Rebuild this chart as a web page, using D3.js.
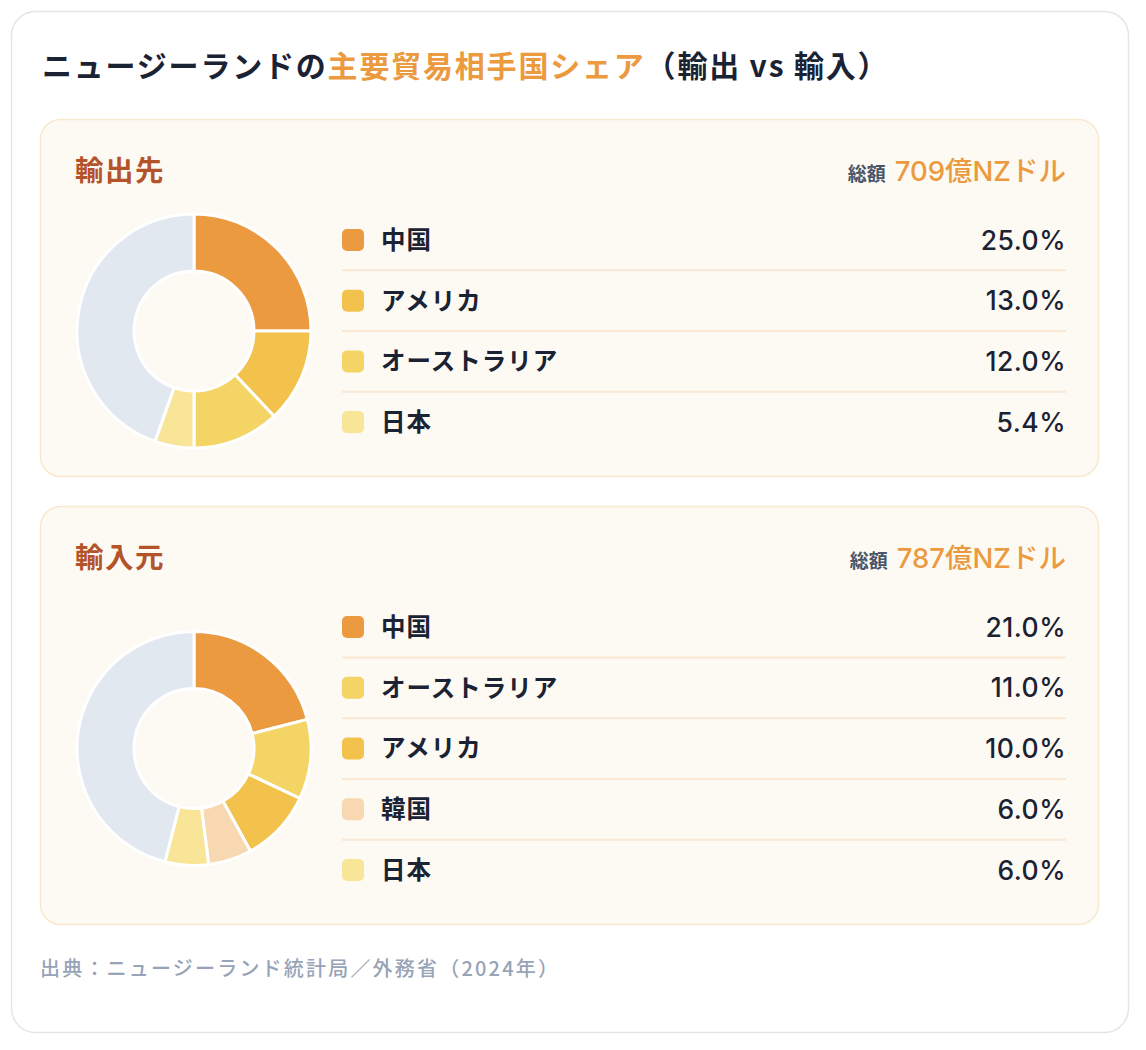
<!DOCTYPE html>
<html lang="ja">
<head>
<meta charset="utf-8">
<script src="https://cdn.jsdelivr.net/npm/d3@7"></script>
<style>
  html, body { margin: 0; padding: 0; background: #ffffff; }
  svg { display: block; }
</style>
</head>
<body>
<svg id="chart" width="1146" height="1050"></svg>
<script>
// ---------- data ----------
const titlePre = "ニュージーランドの";
const titleMid = "主要貿易相手国シェア";
const titlePost = "（輸出 vs 輸入）";
const sourceText = "出典：ニュージーランド統計局／外務省（2024年）";

const exportTitle = "輸出先";
const exportTotal = "709億NZドル";
const exportCountries = ["中国", "アメリカ", "オーストラリア", "日本"];
const exportShares = [25.0, 13.0, 12.0, 5.4];
const exportOther = 44.6;

const importTitle = "輸入元";
const importTotal = "787億NZドル";
const importCountries = ["中国", "オーストラリア", "アメリカ", "韓国", "日本"];
const importShares = [21.0, 11.0, 10.0, 6.0, 6.0];
const importOther = 46.0;

const countryColors = {
  "中国": "#eb9a40",
  "アメリカ": "#f2c24c",
  "オーストラリア": "#f5d466",
  "日本": "#f9e597",
  "韓国": "#f8d8b0",
  "その他": "#e2e8f0"
};

// ---------- drawing ----------
const svg = d3.select("#chart");
const JP = "'Noto Sans CJK JP', 'Noto Sans', sans-serif";
const NUM = "Inter, 'Noto Sans CJK JP', sans-serif";

svg.append("rect")
  .attr("x", 11.5).attr("y", 11.5)
  .attr("width", 1117).attr("height", 1021)
  .attr("rx", 24)
  .attr("fill", "#ffffff")
  .attr("stroke", "#e3e5ea")
  .attr("stroke-width", 1.5);

const title = svg.append("text")
  .attr("x", 42).attr("y", 77)
  .attr("font-family", JP)
  .attr("font-size", 30)
  .attr("font-weight", 700)
  .attr("letter-spacing", 1.8)
  .attr("fill", "#1a2233");
title.append("tspan").text(titlePre);
title.append("tspan").attr("fill", "#eb9a40").text(titleMid);
title.append("tspan").text(titlePost);

function panel(cfg) {
  const g = svg.append("g");
  g.append("rect")
    .attr("x", 40.5).attr("y", cfg.top + 0.5)
    .attr("width", 1058).attr("height", cfg.height)
    .attr("rx", 20)
    .attr("fill", "#fdfaf3")
    .attr("stroke", "#f9e8d0")
    .attr("stroke-width", 1.5);

  g.append("text")
    .attr("x", 75).attr("y", cfg.top + 62)
    .attr("font-family", JP)
    .attr("font-size", 28.5)
    .attr("font-weight", 700)
    .attr("letter-spacing", 1.5)
    .attr("fill", "#b4532a")
    .text(cfg.title);

  const tot = g.append("text")
    .attr("x", 1066).attr("y", cfg.top + 62)
    .attr("text-anchor", "end")
    .attr("font-family", NUM);
  tot.append("tspan")
    .attr("font-family", JP)
    .attr("font-size", 19)
    .attr("font-weight", 700)
    .attr("fill", "#4a5568")
    .text("総額");
  tot.append("tspan")
    .attr("dx", 9)
    .attr("font-size", 27.5)
    .attr("font-weight", 500)
    .attr("fill", "#eb9a40")
    .text(cfg.total);

  // donut
  const data = cfg.countries.map((c, i) => ({ name: c, value: cfg.shares[i] }))
    .concat([{ name: "その他", value: cfg.other }]);
  const pie = d3.pie().sort(null).value(d => d.value);
  const arc = d3.arc().innerRadius(60).outerRadius(117);
  const dg = g.append("g").attr("transform", `translate(194,${cfg.cy})`);
  dg.selectAll("path")
    .data(pie(data))
    .join("path")
    .attr("d", arc)
    .attr("fill", d => countryColors[d.data.name])
    .attr("stroke", "#ffffff")
    .attr("stroke-width", 3)
    .attr("stroke-linejoin", "round");

  // legend rows
  const y = d3.scalePoint()
    .domain(cfg.countries)
    .range([cfg.firstRow, cfg.firstRow + cfg.rowStep * (cfg.countries.length - 1)]);

  const rows = g.selectAll("g.row")
    .data(cfg.countries.map((c, i) => ({ name: c, value: cfg.shares[i] })))
    .join("g")
    .attr("class", "row")
    .attr("transform", d => `translate(0,${y(d.name)})`);

  rows.filter((d, i) => i < cfg.countries.length - 1)
    .append("line")
    .attr("x1", 342).attr("x2", 1066)
    .attr("y1", cfg.rowStep / 2).attr("y2", cfg.rowStep / 2)
    .attr("stroke", "#f7e7d4")
    .attr("stroke-width", 2);

  rows.append("rect")
    .attr("x", 342).attr("y", -11)
    .attr("width", 22).attr("height", 22)
    .attr("rx", 5)
    .attr("fill", d => countryColors[d.name]);

  rows.append("text")
    .attr("x", 381).attr("y", 0)
    .attr("dy", "0.36em")
    .attr("font-family", JP)
    .attr("font-size", 24.5)
    .attr("font-weight", 700)
    .attr("letter-spacing", 1)
    .attr("fill", "#1a2233")
    .text(d => d.name);

  rows.append("text")
    .attr("x", 1066).attr("y", 0)
    .attr("dy", "0.36em")
    .attr("text-anchor", "end")
    .attr("font-family", NUM)
    .attr("font-size", 26.5)
    .attr("font-weight", 500)
    .attr("letter-spacing", 0.5)
    .attr("fill", "#1a2233")
    .text(d => d3.format(".1f")(d.value) + "%");
}

panel({
  top: 119, height: 357, cy: 331,
  title: exportTitle, total: exportTotal,
  countries: exportCountries, shares: exportShares, other: exportOther,
  firstRow: 240, rowStep: 60.7
});

panel({
  top: 506, height: 418, cy: 748.5,
  title: importTitle, total: importTotal,
  countries: importCountries, shares: importShares, other: importOther,
  firstRow: 627, rowStep: 60.75
});

svg.append("text")
  .attr("x", 40).attr("y", 976)
  .attr("font-family", JP)
  .attr("font-size", 20)
  .attr("font-weight", 500)
  .attr("letter-spacing", 2.2)
  .attr("fill", "#97a3b6")
  .text(sourceText);
</script>
</body>
</html>
